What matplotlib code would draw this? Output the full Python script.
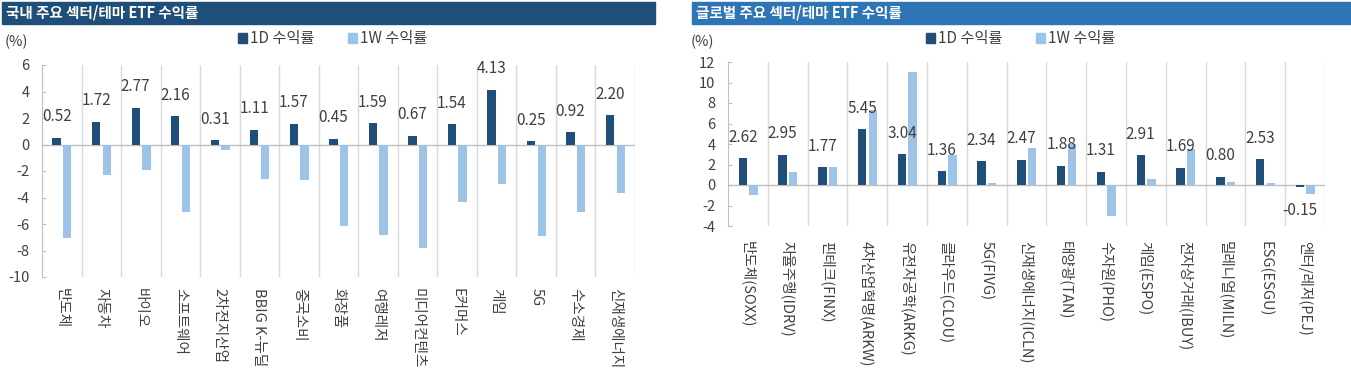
import matplotlib
matplotlib.use("Agg")
import matplotlib.pyplot as plt
import numpy as np
from matplotlib.patches import Patch, Rectangle

plt.rcParams['font.family'] = ['Noto Sans CJK KR', 'DejaVu Sans']

# data
kr_categories = ["반도체", "자동차", "바이오", "소프트웨어", "2차전지산업", "BBIG K-뉴딜",
                 "중국소비", "화장품", "여행레저", "미디어컨텐츠", "E커머스", "게임",
                 "5G", "수소경제", "신재생에너지"]
kr_1d = [0.52, 1.72, 2.77, 2.16, 0.31, 1.11, 1.57, 0.45, 1.59, 0.67, 1.54, 4.13, 0.25, 0.92, 2.20]
kr_1w = [-7.07, -2.30, -1.92, -5.08, -0.40, -2.60, -2.65, -6.14, -6.84, -7.83, -4.32, -2.98,
         -6.87, -5.13, -3.69]

gl_categories = ["반도체(SOXX)", "자율주행(IDRV)", "핀테크(FINX)", "4차산업혁명(ARKW)",
                 "유전자공학(ARKG)", "클라우드(CLOU)", "5G(FIVG)", "신재생에너지(ICLN)",
                 "태양광(TAN)", "수자원(PHO)", "게임(ESPO)", "전자상거래(IBUY)",
                 "밀레니얼(MILN)", "ESG(ESGU)", "엔터/레저(PEJ)"]
gl_1d = [2.62, 2.95, 1.77, 5.45, 3.04, 1.36, 2.34, 2.47, 1.88, 1.31, 2.91, 1.69, 0.80, 2.53, -0.15]
gl_1w = [-1.00, 1.29, 1.75, 7.30, 11.00, 2.88, 0.24, 3.59, 3.97, -3.00, 0.58, 3.56, 0.34, 0.24, -0.88]

series_names = ["1D 수익률", "1W 수익률"]

C_1D = "#1F4E79"
C_1W = "#9DC3E6"
GRID = "#D9D9D9"
AXIS = "#BFBFBF"
TXT = "#404040"

fig = plt.figure(figsize=(13.51, 3.68), dpi=100)


def draw_panel(ax, cats, d1, w1, ylim, yticks, title, title_color, bar_rect, xpad):
    x = np.arange(len(cats))
    ax.bar(x - 0.13, d1, width=0.21, color=C_1D, zorder=3)
    ax.bar(x + 0.14, w1, width=0.21, color=C_1W, zorder=3)

    # 1D value labels above (or below) the dark bars
    for xi, v in zip(x, d1):
        off = 15 if v >= 0 else -17
        ax.annotate(f"{v:.2f}", (xi - 0.13, v), xytext=(0, off), textcoords="offset points",
                    ha="center", va="center", fontsize=11, color=TXT)

    ax.set_xlim(-0.5, len(cats) - 0.5)
    ax.set_ylim(*ylim)
    ax.set_yticks(yticks)
    ax.set_yticklabels([str(t) for t in yticks], fontsize=10.5, color=TXT)
    ax.tick_params(axis="y", direction="in", length=3, color=AXIS, pad=9)

    ax.set_xticks(x)
    ax.set_xticklabels(cats, rotation=-90, ha="center", va="top", fontsize=10.5, color=TXT)
    ax.tick_params(axis="x", length=0, pad=xpad)

    for b in np.arange(0.5, len(cats), 1.0):
        ax.axvline(b, color=GRID, lw=1, zorder=1)
    ax.axhline(0, color=AXIS, lw=1, zorder=2)

    for s in ["top", "right", "bottom"]:
        ax.spines[s].set_visible(False)
    ax.spines["left"].set_color(AXIS)

    pos = ax.get_position()
    fig.text(pos.x0 - 0.019, 0.885, "(%)", fontsize=10.5, color=TXT, ha="center", va="center")
    handles = [Patch(color=C_1D), Patch(color=C_1W)]
    fig.legend(handles, series_names, loc="center", ncol=2, frameon=False,
               bbox_to_anchor=(pos.x0 + pos.width * 0.49, 0.895), fontsize=11,
               handlelength=0.6, handleheight=0.6, handletextpad=0.2, columnspacing=2.2,
               labelcolor=TXT)

    # title banner
    fig.patches.append(Rectangle((bar_rect[0], 0.935), bar_rect[1], 0.06,
                                 transform=fig.transFigure, color=title_color, zorder=0))
    fig.text(bar_rect[0] + 0.003, 0.965, title, fontsize=10.5, fontweight="bold",
             color="white", ha="left", va="center")


ax1 = fig.add_axes([42 / 1351, 91 / 368, 593 / 1351, 212 / 368])
draw_panel(ax1, kr_categories, kr_1d, kr_1w, (-10, 6), list(range(-10, 7, 2)),
           "국내 주요 섹터/테마 ETF 수익률", "#1F4E79", (2 / 1351, 653 / 1351), 8)

ax2 = fig.add_axes([728 / 1351, 142 / 368, 597 / 1351, 164 / 368])
draw_panel(ax2, gl_categories, gl_1d, gl_1w, (-4, 12), list(range(-4, 13, 2)),
           "글로벌 주요 섹터/테마 ETF 수익률", "#2E75B6", (692 / 1351, 659 / 1351), 11)

fig.savefig("out.png", dpi=100)
